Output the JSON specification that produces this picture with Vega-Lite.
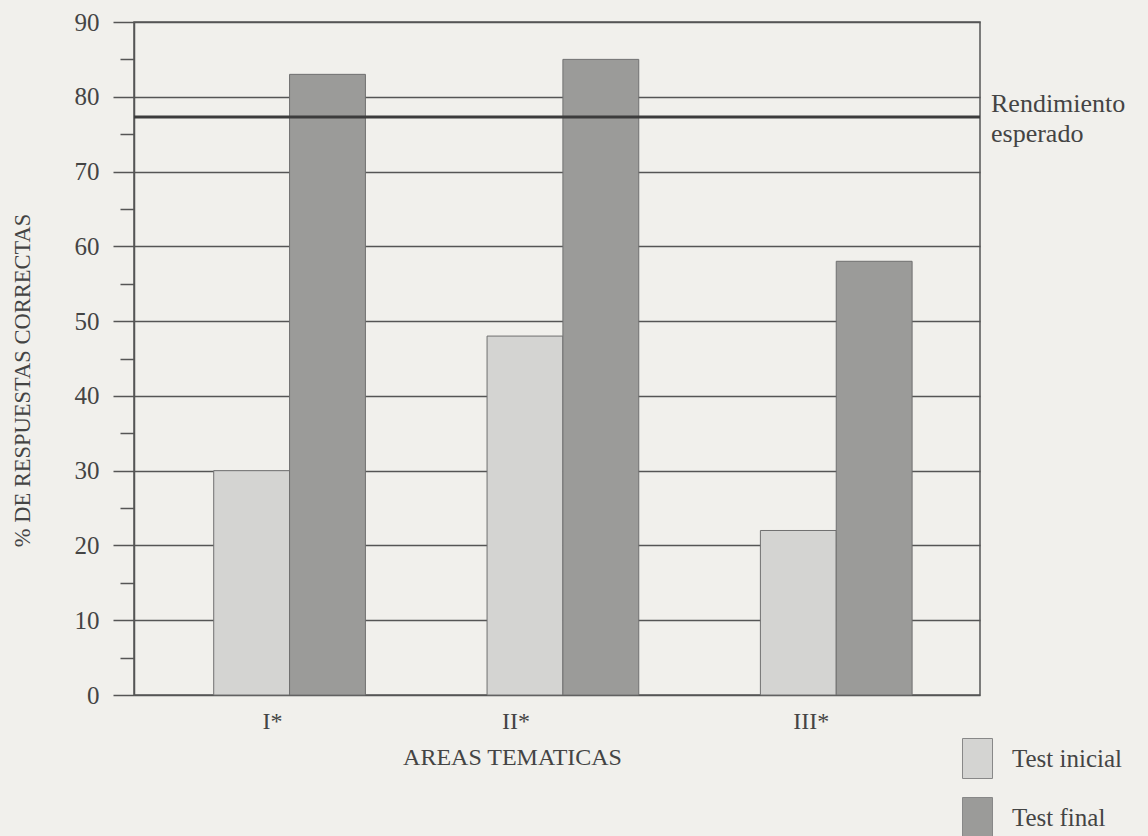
{
  "$schema": "https://vega.github.io/schema/vega-lite/v6.json",
  "autosize": {"type": "none"},
  "padding": {"left": 134, "top": 22, "right": 168, "bottom": 141},
  "width": 846,
  "height": 673,
  "background": "#f1f0ec",
  "config": {
    "font": "Liberation Serif",
    "view": {"stroke": "#555555", "strokeWidth": 1.5},
    "axis": {"labelFont": "Liberation Serif", "titleFont": "Liberation Serif", "labelColor": "#444444", "titleColor": "#444444", "titleFontWeight": "normal"},
    "legend": {"labelFont": "Liberation Serif"}
  },
  "resolve": {"axis": {"y": "independent"}},
  "layer": [
    {
      "data": {
        "values": [
          {"area": "I*", "test": "Test inicial", "value": 30},
          {"area": "I*", "test": "Test final", "value": 83},
          {"area": "II*", "test": "Test inicial", "value": 48},
          {"area": "II*", "test": "Test final", "value": 85},
          {"area": "III*", "test": "Test inicial", "value": 22},
          {"area": "III*", "test": "Test final", "value": 58}
        ]
      },
      "mark": {"type": "bar", "stroke": "#707070", "strokeWidth": 1},
      "encoding": {
        "x": {
          "field": "area",
          "type": "nominal",
          "sort": ["I*", "II*", "III*"],
          "scale": {"paddingInner": 0.445, "paddingOuter": 0.27, "align": 0.54},
          "axis": {
            "title": "AREAS TEMATICAS",
            "titleFontSize": 24,
            "titleX": 378,
            "titleY": 62,
            "titleBaseline": "middle",
            "labelAngle": 0,
            "labelFontSize": 24,
            "labelPadding": 14,
            "labelOffset": {"condition": [{"test": "datum.value === 'I*'", "value": -17}, {"test": "datum.value === 'II*'", "value": -47}], "value": -25},
            "ticks": false,
            "domain": false
          }
        },
        "xOffset": {
          "field": "test",
          "type": "nominal",
          "sort": ["Test inicial", "Test final"],
          "scale": {"paddingInner": 0, "paddingOuter": 0}
        },
        "y": {
          "field": "value",
          "type": "quantitative",
          "scale": {"domain": [0, 90], "nice": false},
          "axis": {
            "title": "% DE RESPUESTAS CORRECTAS",
            "titleFontSize": 22.5,
            "titleAngle": -90,
            "titleX": -112,
            "titleY": 358,
            "titleAlign": "center",
            "titleBaseline": "middle",
            "values": [0, 10, 20, 30, 40, 50, 60, 70, 80, 90],
            "labelFontSize": 25,
            "labelPadding": 14,
            "tickSize": 21,
            "tickColor": "#555555",
            "tickWidth": 1.5,
            "domainColor": "#555555",
            "domainWidth": 1.5,
            "grid": true,
            "gridColor": "#555555",
            "gridWidth": 1.5
          }
        },
        "color": {
          "field": "test",
          "type": "nominal",
          "sort": ["Test inicial", "Test final"],
          "scale": {"domain": ["Test inicial", "Test final"], "range": ["#d4d4d2", "#9b9b99"]},
          "legend": {
            "title": null,
            "orient": "none",
            "legendX": 823,
            "legendY": 716,
            "symbolType": "M-0.75,-1H0.75V1H-0.75Z",
            "symbolSize": 1600,
            "symbolStrokeColor": "#888888",
            "symbolStrokeWidth": 1,
            "labelFontSize": 25,
            "labelColor": "#444444",
            "labelOffset": 14,
            "rowPadding": 14
          }
        }
      }
    },
    {
      "data": {"values": [{"v": 77.3}]},
      "mark": {"type": "rule", "color": "#3c3c3c", "strokeWidth": 3},
      "encoding": {
        "y": {
          "field": "v",
          "type": "quantitative",
          "scale": {"domain": [0, 90], "nice": false},
          "axis": {
            "orient": "left",
            "title": null,
            "values": [5, 15, 25, 35, 45, 55, 65, 75, 85],
            "labels": false,
            "domain": false,
            "grid": false,
            "tickSize": 14,
            "tickColor": "#555555",
            "tickWidth": 1.5
          }
        }
      }
    },
    {
      "data": {"values": [{"v": 77.3, "label": "Rendimiento esperado"}]},
      "mark": {"type": "text", "align": "left", "baseline": "top", "fontSize": 26, "color": "#444444", "dx": 11, "dy": -26, "lineHeight": 30, "text": ["Rendimiento", "esperado"]},
      "encoding": {
        "y": {"field": "v", "type": "quantitative", "axis": null},
        "x": {"value": "width"}
      }
    }
  ]
}
